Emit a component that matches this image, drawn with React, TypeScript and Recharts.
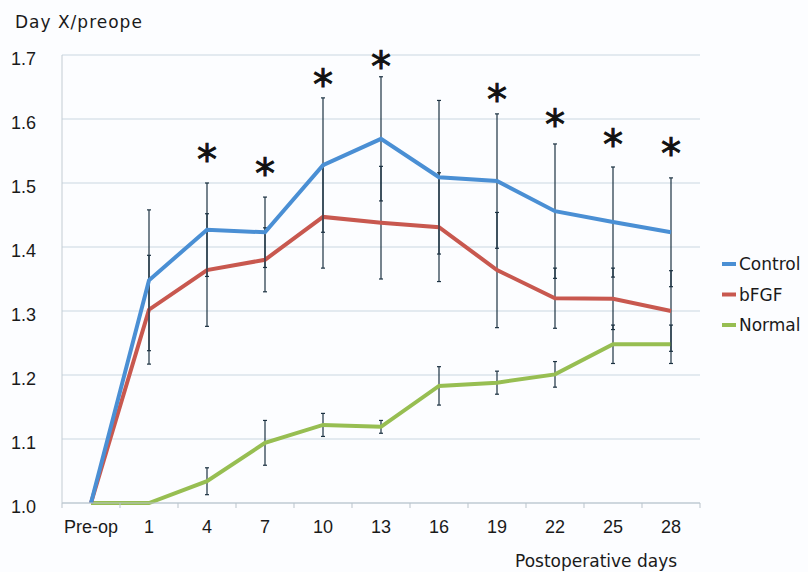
import {
  ComposedChart,
  Line,
  ErrorBar,
  CartesianGrid,
  XAxis,
  YAxis,
} from "recharts";

// postoperative day categories
const days = ["Pre-op", "1", "4", "7", "10", "13", "16", "19", "22", "25", "28"];

// ratio of day X to pre-op value, mean and SD per group
const control = [1.0, 1.348, 1.427, 1.423, 1.528, 1.569, 1.509, 1.503, 1.456, 1.439, 1.423];
const controlSd = [null, 0.11, 0.073, 0.055, 0.105, 0.097, 0.12, 0.105, 0.105, 0.086, 0.085];
const bfgf = [1.0, 1.302, 1.364, 1.38, 1.447, 1.438, 1.431, 1.364, 1.32, 1.319, 1.3];
const bfgfSd = [null, 0.085, 0.088, 0.05, 0.08, 0.088, 0.085, 0.09, 0.047, 0.048, 0.063];
const normal = [1.0, 1.0, 1.034, 1.094, 1.122, 1.119, 1.183, 1.188, 1.201, 1.248, 1.248];
const normalSd = [null, null, 0.021, 0.035, 0.018, 0.01, 0.03, 0.018, 0.02, 0.03, 0.03];

// height at which the significance mark sits (null = not significant)
const sigMark = [null, null, 1.547, 1.525, 1.664, 1.692, null, 1.641, 1.602, 1.57, 1.556];

const yTicks = [1.0, 1.1, 1.2, 1.3, 1.4, 1.5, 1.6, 1.7];

const COLORS = { control: "#4a8fd4", bfgf: "#c8584f", normal: "#97be52" };
const ERR_COLOR = "#1c3242";

const rows = days.map((day, i) => ({
  day,
  control: control[i],
  controlSd: controlSd[i],
  bfgf: bfgf[i],
  bfgfSd: bfgfSd[i],
  normal: normal[i],
  normalSd: normalSd[i],
  sig: sigMark[i],
}));

const W = 808;
const H = 572;
const PLOT_LEFT = 62;
const PLOT_RIGHT = 700;
const STEP = (PLOT_RIGHT - PLOT_LEFT) / days.length;

function XTick(props: any) {
  const { x, y, payload, index } = props;
  const last = index === days.length - 1;
  // recharts hands us y below the axis (tick size + margin); pull back to the axis line
  const base = y - 8;
  return (
    <g>
      <line x1={x - STEP / 2} x2={x - STEP / 2} y1={base} y2={base + 5} stroke="#b9c3cb" />
      {last && <line x1={x + STEP / 2} x2={x + STEP / 2} y1={base} y2={base + 5} stroke="#b9c3cb" />}
      <text
        x={x}
        y={base + 30}
        textAnchor="middle"
        fontSize={18}
        fontFamily="'Liberation Sans Narrow', 'Liberation Sans', sans-serif"
        fill="#1a1a1a"
      >
        {payload.value}
      </text>
    </g>
  );
}

function YTick(props: any) {
  const { y, payload } = props;
  return (
    <text
      x={36}
      y={y + 10}
      textAnchor="end"
      fontSize={18}
      fontFamily="'Liberation Sans', Arial, sans-serif"
      fill="#1a1a1a"
    >
      {Number(payload.value).toFixed(1)}
    </text>
  );
}

function Star(props: any) {
  const { cx, cy, payload, index } = props;
  if (payload == null || payload.sig == null || cy == null) return <g key={`s${index}`} />;
  return (
    <text
      key={`s${index}`}
      x={cx}
      y={cy + 21}
      textAnchor="middle"
      fontSize={40}
      fontFamily="'DejaVu Sans', sans-serif"
      fill="#111"
      stroke="#111"
      strokeWidth={0.9}
    >
      *
    </text>
  );
}

const legendItems = [
  { name: "Control", color: COLORS.control },
  { name: "bFGF", color: COLORS.bfgf },
  { name: "Normal", color: COLORS.normal },
];

export default function App() {
  const textFont = "'DejaVu Sans', sans-serif";
  return (
    <div
      style={{
        position: "absolute",
        left: 0,
        top: 0,
        width: W,
        height: H,
        background: "#fcfdff",
      }}
    >
      <ComposedChart
        width={W}
        height={H}
        data={rows}
        margin={{ top: 55, right: W - PLOT_RIGHT, bottom: 39, left: 10 }}
      >
        <CartesianGrid vertical={false} stroke="#c9d7e2" strokeWidth={1.2} />
        <XAxis
          dataKey="day"
          height={30}
          interval={0}
          padding={{ left: STEP / 2, right: STEP / 2 }}
          axisLine={{ stroke: "#b9c3cb", strokeWidth: 1.2 }}
          tickLine={false}
          tick={<XTick />}
        />
        <YAxis
          width={52}
          domain={[1.0, 1.7]}
          ticks={yTicks}
          axisLine={{ stroke: "#c3ccd3" }}
          tickLine={false}
          tick={<YTick />}
        />
        <Line
          dataKey="normal"
          stroke={COLORS.normal}
          strokeWidth={4}
          dot={false}
          isAnimationActive={false}
        >
          <ErrorBar dataKey="normalSd" width={2} stroke={ERR_COLOR} strokeWidth={1.2} direction="y" />
        </Line>
        <Line
          dataKey="bfgf"
          stroke={COLORS.bfgf}
          strokeWidth={4}
          dot={false}
          isAnimationActive={false}
        >
          <ErrorBar dataKey="bfgfSd" width={2} stroke={ERR_COLOR} strokeWidth={1.2} direction="y" />
        </Line>
        <Line
          dataKey="control"
          stroke={COLORS.control}
          strokeWidth={4}
          dot={false}
          isAnimationActive={false}
        >
          <ErrorBar dataKey="controlSd" width={2} stroke={ERR_COLOR} strokeWidth={1.2} direction="y" />
        </Line>
        <Line
          dataKey="sig"
          stroke="none"
          dot={<Star />}
          activeDot={false}
          legendType="none"
          isAnimationActive={false}
        />
      </ComposedChart>

      <svg
        width={W}
        height={H}
        style={{ position: "absolute", left: 0, top: 0, pointerEvents: "none" }}
      >
        <text x={15} y={28} fontSize={17} letterSpacing={1} fontFamily={textFont} fill="#1a1a1a">
          Day X/preope
        </text>
        <text x={515} y={567} fontSize={17} fontFamily={textFont} fill="#1a1a1a">
          Postoperative days
        </text>
        {legendItems.map((it, i) => {
          const y = 264 + i * 30.5;
          return (
            <g key={it.name}>
              <line x1={722} x2={736} y1={y} y2={y} stroke={it.color} strokeWidth={4} />
              <text x={739} y={y + 6} fontSize={17} fontFamily={textFont} fill="#1a1a1a">
                {it.name}
              </text>
            </g>
          );
        })}
      </svg>
    </div>
  );
}
